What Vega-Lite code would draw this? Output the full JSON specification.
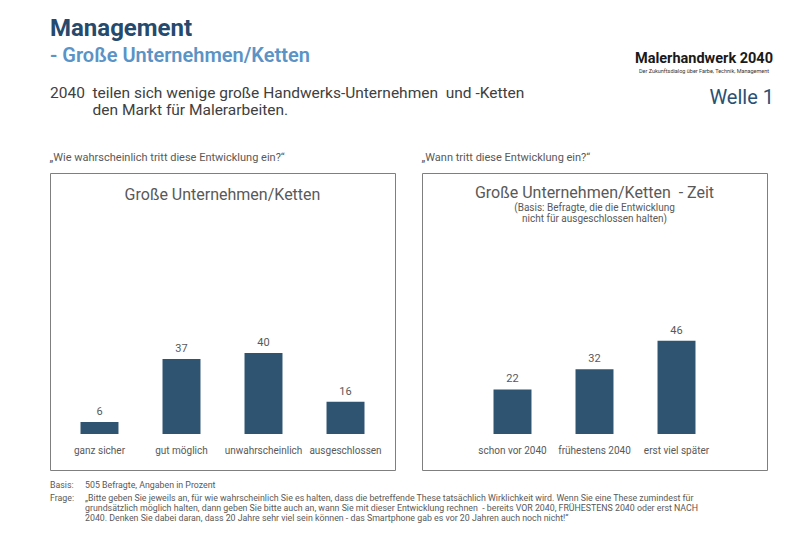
{
  "$schema": "https://vega.github.io/schema/vega-lite/v6.json",
  "background": "white",
  "padding": {"left": 49, "top": 17, "right": 0, "bottom": 0},
  "spacing": 3,
  "config": {
    "font": "Roboto",
    "view": {"stroke": null},
    "title": {"color": "#595959", "fontWeight": "normal", "font": "Roboto", "subtitleFont": "Roboto"},
    "text": {"font": "Roboto"}
  },
  "vconcat": [
    {
      "spacing": 24,
      "hconcat": [
        {
          "width": 560,
          "height": 62,
          "title": {
            "text": "Management",
            "subtitle": "- Große Unternehmen/Ketten",
            "anchor": "start",
            "fontSize": 24,
            "fontWeight": "bold",
            "color": "#264a6e",
            "subtitleFontSize": 20,
            "subtitleFontWeight": 600,
            "subtitleColor": "#5b93c6",
            "subtitlePadding": 5,
            "offset": 20
          },
          "data": {"values": [{"t": "2040\u00a0 teilen sich wenige große Handwerks-Unternehmen\u00a0 und -Ketten\n\u200b\u2007\u2007\u2007\u2007\u00a0\u00a0den Markt für Malerarbeiten."}]},
          "mark": {"type": "text", "align": "left", "baseline": "top", "fontSize": 15.5, "lineBreak": "\n", "lineHeight": 16.5, "color": "#404040"},
          "encoding": {"text": {"field": "t"}, "x": {"value": 0}, "y": {"value": 0}}
        },
        {
          "width": 140,
          "height": 20,
          "title": {
            "text": "Malerhandwerk 2040",
            "subtitle": "Der Zukunftsdialog über Farbe, Technik, Management",
            "anchor": "middle",
            "fontSize": 14.5,
            "fontWeight": "bold",
            "color": "#1a1a1a",
            "subtitleFontSize": 5.5,
            "subtitleColor": "#333333",
            "subtitlePadding": 2,
            "offset": 11
          },
          "data": {"values": [{"t": "Welle 1"}]},
          "mark": {"type": "text", "align": "right", "baseline": "top", "fontSize": 20, "color": "#2b4f73", "dy": 2},
          "encoding": {"text": {"field": "t"}, "x": {"value": "width"}, "y": {"value": 0}}
        }
      ]
    },
    {
      "spacing": 25,
      "hconcat": [
        {
          "title": {"text": "„Wie wahrscheinlich tritt diese Entwicklung ein?“", "anchor": "start", "fontSize": 11, "offset": 10},
          "vconcat": [
            {
              "width": 345,
              "height": 297,
              "view": {"stroke": "#7f7f7f", "strokeWidth": 1},
              "title": {"text": "Große Unternehmen/Ketten", "fontSize": 16, "offset": -30, "anchor": "middle"},
              "data": {"values": [
                {"Antwort": "ganz sicher", "Prozent": 6},
                {"Antwort": "gut möglich", "Prozent": 37},
                {"Antwort": "unwahrscheinlich", "Prozent": 40},
                {"Antwort": "ausgeschlossen", "Prozent": 16}
              ]},
              "encoding": {
                "x": {
                  "field": "Antwort", "type": "nominal", "sort": null,
                  "scale": {"paddingInner": 0.537, "paddingOuter": 0.372},
                  "axis": {"title": null, "labelAngle": 0, "domain": false, "ticks": false, "tickSize": 0, "offset": -36, "labelPadding": 11, "labelFontSize": 10, "labelColor": "#595959", "labelFont": "Roboto"}
                },
                "y": {"field": "Prozent", "type": "quantitative", "scale": {"domain": [-17.7, 128.7], "nice": false}, "axis": null}
              },
              "layer": [
                {"mark": {"type": "bar", "color": "#2f5471"}},
                {"mark": {"type": "text", "baseline": "bottom", "dy": -5, "fontSize": 11, "color": "#595959"}, "encoding": {"text": {"field": "Prozent"}}}
              ]
            }
          ]
        },
        {
          "title": {"text": "„Wann tritt diese Entwicklung ein?“", "anchor": "start", "fontSize": 11, "offset": 10},
          "vconcat": [
            {
              "width": 345,
              "height": 297,
              "view": {"stroke": "#7f7f7f", "strokeWidth": 1},
              "title": {
                "text": "Große Unternehmen/Ketten\u00a0 - Zeit",
                "subtitle": ["(Basis: Befragte, die die Entwicklung", "nicht für ausgeschlossen halten)"],
                "fontSize": 16,
                "subtitleFontSize": 10,
                "subtitleColor": "#595959",
                "subtitleLineHeight": 11,
                "subtitlePadding": 2,
                "offset": -51,
                "anchor": "middle"
              },
              "data": {"values": [
                {"Zeitpunkt": "schon vor 2040", "Prozent": 22},
                {"Zeitpunkt": "frühestens 2040", "Prozent": 32},
                {"Zeitpunkt": "erst viel später", "Prozent": 46}
              ]},
              "encoding": {
                "x": {
                  "field": "Zeitpunkt", "type": "nominal", "sort": null,
                  "scale": {"paddingInner": 0.537, "paddingOuter": 0.872},
                  "axis": {"title": null, "labelAngle": 0, "domain": false, "ticks": false, "tickSize": 0, "offset": -36, "labelPadding": 11, "labelFontSize": 10, "labelColor": "#595959", "labelFont": "Roboto"}
                },
                "y": {"field": "Prozent", "type": "quantitative", "scale": {"domain": [-17.7, 128.7], "nice": false}, "axis": null}
              },
              "layer": [
                {"mark": {"type": "bar", "color": "#2f5471"}},
                {"mark": {"type": "text", "baseline": "bottom", "dy": -5, "fontSize": 11, "color": "#595959"}, "encoding": {"text": {"field": "Prozent"}}}
              ]
            }
          ]
        }
      ]
    },
    {
      "spacing": 5,
      "hconcat": [
        {
          "width": 30,
          "height": 26,
          "data": {"name": "footer"},
          "mark": {"type": "text", "align": "left", "baseline": "top", "fontSize": 8.8, "color": "#595959"},
          "encoding": {
            "text": {"field": "k"},
            "x": {"value": 0},
            "y": {"field": "k", "type": "nominal", "sort": null, "scale": {"paddingInner": 0, "paddingOuter": 0}, "axis": null}
          }
        },
        {
          "width": 680,
          "height": 26,
          "data": {"name": "footer"},
          "mark": {"type": "text", "align": "left", "baseline": "top", "fontSize": 8.8, "lineBreak": "\n", "lineHeight": 10, "color": "#595959"},
          "encoding": {
            "text": {"field": "t"},
            "x": {"value": 0},
            "y": {"field": "k", "type": "nominal", "sort": null, "scale": {"paddingInner": 0, "paddingOuter": 0}, "axis": null}
          }
        }
      ]
    }
  ],
  "datasets": {
    "footer": [
      {"k": "Basis:", "t": "505 Befragte, Angaben in Prozent"},
      {"k": "Frage:", "t": "„Bitte geben Sie jeweils an, für wie wahrscheinlich Sie es halten, dass die betreffende These tatsächlich Wirklichkeit wird. Wenn Sie eine These zumindest für\ngrundsätzlich möglich halten, dann geben Sie bitte auch an, wann Sie mit dieser Entwicklung rechnen\u00a0 - bereits VOR 2040, FRÜHESTENS 2040 oder erst NACH\n2040. Denken Sie dabei daran, dass 20 Jahre sehr viel sein können - das Smartphone gab es vor 20 Jahren auch noch nicht!“"}
    ]
  }
}
